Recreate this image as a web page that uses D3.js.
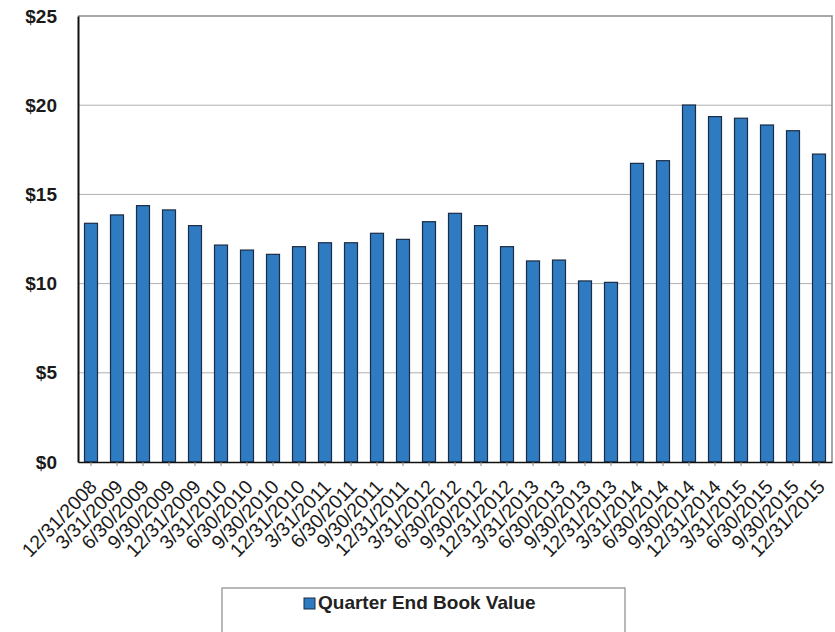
<!DOCTYPE html>
<html><head><meta charset="utf-8">
<script src="https://cdn.jsdelivr.net/npm/d3@7"></script>
<style>body{margin:0;background:#fff;} svg{display:block;}</style>
</head><body>
<svg id="c" width="835" height="632"></svg>
<script>
const categories = ["12/31/2008","3/31/2009","6/30/2009","9/30/2009","12/31/2009","3/31/2010","6/30/2010","9/30/2010","12/31/2010","3/31/2011","6/30/2011","9/30/2011","12/31/2011","3/31/2012","6/30/2012","9/30/2012","12/31/2012","3/31/2013","6/30/2013","9/30/2013","12/31/2013","3/31/2014","6/30/2014","9/30/2014","12/31/2014","3/31/2015","6/30/2015","9/30/2015","12/31/2015"];
const bookValue = [13.38,13.85,14.37,14.13,13.25,12.16,11.88,11.64,12.07,12.29,12.29,12.82,12.48,13.47,13.94,13.25,12.07,11.27,11.32,10.15,10.07,16.74,16.89,20.01,19.36,19.27,18.89,18.57,17.26];
const yTicks = [0,5,10,15,20,25];
const seriesName = "Quarter End Book Value";

const svg = d3.select("#c");
const L = 78, R = 832, T = 16, B = 462;
const x = d3.scaleBand().domain(categories).range([L, R]).paddingInner(0.5).paddingOuter(0.25);
const y = d3.scaleLinear().domain([0, 25]).range([B, T]);
const font = "'Liberation Sans', Arial, sans-serif";

// gridlines
svg.append("g").selectAll("line").data(yTicks.filter(d => d > 0 && d < 25)).join("line")
  .attr("x1", L).attr("x2", R).attr("y1", d => y(d)).attr("y2", d => y(d))
  .attr("stroke", "#b0b0b0").attr("stroke-width", 1);
// plot border top/right
svg.append("path").attr("d", `M${L},${T}H${R}V${B}`).attr("fill", "none").attr("stroke", "#8a8a8a").attr("stroke-width", 1.5);

// bars
svg.append("g").selectAll("rect").data(bookValue).join("rect")
  .attr("x", (d, i) => x(categories[i]))
  .attr("width", x.bandwidth())
  .attr("y", d => y(d))
  .attr("height", d => y(0) - y(d))
  .attr("fill", "#2f7bc2")
  .attr("stroke", "#1a2c44").attr("stroke-width", 1.2);

// y axis
const ya = svg.append("g").attr("transform", `translate(${L},0)`)
  .call(d3.axisLeft(y).tickValues(yTicks).tickSize(0).tickPadding(21).tickFormat(d => "$" + d));
ya.select(".domain").attr("stroke", "#111").attr("stroke-width", 2);
ya.selectAll("text").attr("font-family", font).attr("font-size", 19).attr("font-weight", "bold").attr("fill", "#1a1a1a");

// x axis
const xa = svg.append("g").attr("transform", `translate(0,${B})`)
  .call(d3.axisBottom(x).tickSize(4).tickSizeOuter(0));
xa.select(".domain").attr("stroke", "#111").attr("stroke-width", 1.5);
xa.selectAll(".tick line").attr("stroke", "#888");
xa.selectAll("text").attr("font-family", font).attr("font-size", 19.5).attr("fill", "#1a1a1a")
  .attr("text-anchor", "end").attr("dy", 0).attr("y", 0)
  .attr("transform", "translate(7,26) rotate(-46)");

// legend
const lg = svg.append("g");
lg.append("rect").attr("x", 222).attr("y", 588).attr("width", 403).attr("height", 50)
  .attr("fill", "#fff").attr("stroke", "#8a8a8a").attr("stroke-width", 1.2);
lg.append("rect").attr("x", 304).attr("y", 598).attr("width", 11).attr("height", 11)
  .attr("fill", "#2f7bc2").attr("stroke", "#1a2c44");
lg.append("text").attr("x", 318).attr("y", 609).attr("font-family", font).attr("font-size", 19)
  .attr("font-weight", "bold").attr("fill", "#222").text(seriesName);
</script>
</body></html>
